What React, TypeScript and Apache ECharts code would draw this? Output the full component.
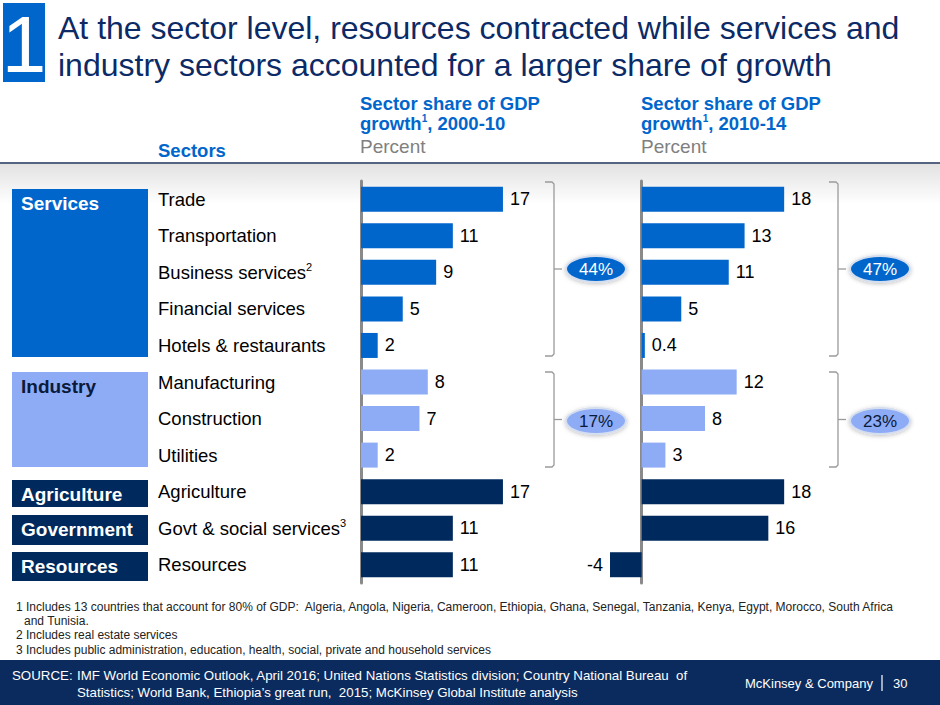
import React, { useEffect, useRef } from "react";
import * as echarts from "echarts";

const sectors = [
  "Trade",
  "Transportation",
  "Business services{sup|2}",
  "Financial services",
  "Hotels & restaurants",
  "Manufacturing",
  "Construction",
  "Utilities",
  "Agriculture",
  "Govt & social services{sup|3}",
  "Resources",
];
const groupOf = ["svc", "svc", "svc", "svc", "svc", "ind", "ind", "ind", "dark", "dark", "dark"];
const share2000_10 = [17, 11, 9, 5, 2, 8, 7, 2, 17, 11, 11];
const share2010_14 = [18, 13, 11, 5, 0.4, 12, 8, 3, 18, 16, -4];
const groupTotals1 = ["44%", "17%"];
const groupTotals2 = ["47%", "23%"];

const C_SVC = "#0066cc";
const C_IND = "#8eabf6";
const C_DARK = "#002a5e";
const NAVY = "#0b2a66";
const colorFor = (g: string) => (g === "svc" ? C_SVC : g === "ind" ? C_IND : C_DARK);

const FONT = "'Liberation Sans', Arial, sans-serif";
const NARROW = "'Liberation Sans Narrow', 'Arial Narrow', 'Liberation Sans', sans-serif";

function barData(vals: number[]) {
  return vals.map((v, i) => ({
    value: v,
    itemStyle: { color: colorFor(groupOf[i]) },
    label: { position: v < 0 ? "left" : "right" },
  }));
}

function bracket(x: number, y1: number, y2: number) {
  const mid = (y1 + y2) / 2;
  return [
    {
      type: "polyline",
      shape: { points: [[x - 9, y1], [x - 2, y1], [x, y1 + 2], [x, y2 - 2], [x - 2, y2], [x - 9, y2]] },
      style: { stroke: "#9a9a9a", lineWidth: 1.3, fill: null },
    },
    { type: "line", shape: { x1: x, y1: mid, x2: x + 8, y2: mid }, style: { stroke: "#9a9a9a", lineWidth: 1.3 } },
  ];
}

function pill(cx: number, cy: number, text: string, fill: string, color: string) {
  return [
    {
      type: "ellipse",
      shape: { cx, cy, rx: 30, ry: 13 },
      style: { fill, stroke: "#d5deef", lineWidth: 2, shadowBlur: 4, shadowColor: "rgba(0,0,0,0.25)", shadowOffsetY: 1 },
    },
    {
      type: "text",
      x: cx,
      y: cy,
      style: { text, fill: color, font: `17px ${FONT}`, align: "center", verticalAlign: "middle" },
    },
  ];
}

function groupBox(y1: number, y2: number, fill: string, text: string, color: string) {
  return [
    { type: "rect", shape: { x: 12, y: y1, width: 136, height: y2 - y1 }, style: { fill } },
    {
      type: "text",
      x: 21,
      y: y1 + 14,
      style: { text, fill: color, font: `bold 19px ${FONT}`, verticalAlign: "middle" },
    },
  ];
}

export default function App() {
  const ref = useRef<HTMLDivElement>(null);
  useEffect(() => {
    if (!ref.current) return;
    const chart = echarts.init(ref.current, null, { renderer: "svg" });
    const labelStyle = { show: true, fontSize: 18, color: "#000", fontFamily: FONT, distance: 7 };
    const headerRich = { sup: { fontSize: 10, fontWeight: "bold", fill: C_SVC, color: C_SVC, verticalAlign: "top", padding: [0, 0, 9, 0] } };
    const graphic: any[] = [
      // title
      { type: "rect", shape: { x: 3, y: 3, width: 42, height: 79 }, style: { fill: C_SVC } },
      { type: "text", x: 24, y: 44, style: { text: "1", fill: "#fff", font: `80px ${NARROW}`, align: "center", verticalAlign: "middle" } },
      { type: "text", x: 58, y: 28, style: { text: "At the sector level, resources contracted while services and", fill: NAVY, font: `32px ${FONT}`, verticalAlign: "middle" } },
      { type: "text", x: 58, y: 65, style: { text: "industry sectors accounted for a larger share of growth", fill: NAVY, font: `32px ${FONT}`, verticalAlign: "middle" } },
      // headers
      { type: "text", x: 158, y: 150, style: { text: "Sectors", fill: C_SVC, font: `bold 18.5px ${FONT}`, verticalAlign: "middle" } },
      { type: "text", x: 360, y: 103, style: { text: "Sector share of GDP", fill: C_SVC, font: `bold 18.5px ${FONT}`, verticalAlign: "middle" } },
      { type: "text", x: 360, y: 123, style: { text: "growth{sup|1}, 2000-10", rich: headerRich, fill: C_SVC, font: `bold 18.5px ${FONT}`, verticalAlign: "middle" } },
      { type: "text", x: 360, y: 146, style: { text: "Percent", fill: "#808080", font: `19px ${FONT}`, verticalAlign: "middle" } },
      { type: "text", x: 641, y: 103, style: { text: "Sector share of GDP", fill: C_SVC, font: `bold 18.5px ${FONT}`, verticalAlign: "middle" } },
      { type: "text", x: 641, y: 123, style: { text: "growth{sup|1}, 2010-14", rich: headerRich, fill: C_SVC, font: `bold 18.5px ${FONT}`, verticalAlign: "middle" } },
      { type: "text", x: 641, y: 146, style: { text: "Percent", fill: "#808080", font: `19px ${FONT}`, verticalAlign: "middle" } },
      // separator + gradient
      {
        type: "rect",
        shape: { x: 0, y: 164, width: 940, height: 40 },
        style: { fill: new echarts.graphic.LinearGradient(0, 0, 0, 1, [{ offset: 0, color: "#e2e2e2" }, { offset: 1, color: "#ffffff" }]) },
        z: -10,
      },
      { type: "line", shape: { x1: 0, y1: 163, x2: 940, y2: 163 }, style: { stroke: "#1b2f55", lineWidth: 1.5 } },
      // group boxes
      ...groupBox(189, 357, C_SVC, "Services", "#ffffff"),
      ...groupBox(372, 467, C_IND, "Industry", "#0a1a3a"),
      ...groupBox(480, 507, C_DARK, "Agriculture", "#ffffff"),
      ...groupBox(515, 545, C_DARK, "Government", "#ffffff"),
      ...groupBox(552, 581, C_DARK, "Resources", "#ffffff"),
      // brackets and pills
      ...bracket(554, 182, 356),
      ...bracket(554, 372, 467),
      ...bracket(838, 182, 356),
      ...bracket(838, 372, 467),
      ...pill(596, 269, groupTotals1[0], C_SVC, "#ffffff"),
      ...pill(596, 421, groupTotals1[1], C_IND, "#0a1a3a"),
      ...pill(880, 269, groupTotals2[0], C_SVC, "#ffffff"),
      ...pill(880, 421, groupTotals2[1], C_IND, "#0a1a3a"),
      // footnotes
      { type: "text", x: 16, y: 607, style: { text: "1 Includes 13 countries that account for 80% of GDP:  Algeria, Angola, Nigeria, Cameroon, Ethiopia, Ghana, Senegal, Tanzania, Kenya, Egypt, Morocco, South Africa", fill: "#222", font: `12px ${NARROW}`, verticalAlign: "middle" } },
      { type: "text", x: 24, y: 621, style: { text: "and Tunisia.", fill: "#222", font: `12px ${NARROW}`, verticalAlign: "middle" } },
      { type: "text", x: 16, y: 635, style: { text: "2 Includes real estate services", fill: "#222", font: `12px ${NARROW}`, verticalAlign: "middle" } },
      { type: "text", x: 16, y: 650, style: { text: "3 Includes public administration, education, health, social, private and household services", fill: "#222", font: `12px ${NARROW}`, verticalAlign: "middle" } },
      // footer
      { type: "rect", shape: { x: 0, y: 660, width: 940, height: 45 }, style: { fill: "#0b2b5e" } },
      { type: "text", x: 12, y: 675, style: { text: "SOURCE:", fill: "#fff", font: `13.3px ${NARROW}`, verticalAlign: "middle" } },
      { type: "text", x: 77, y: 675, style: { text: "IMF World Economic Outlook, April 2016; United Nations Statistics division; Country National Bureau  of", fill: "#fff", font: `13.3px ${NARROW}`, verticalAlign: "middle" } },
      { type: "text", x: 77, y: 692, style: { text: "Statistics; World Bank, Ethiopia\u2019s great run,  2015; McKinsey Global Institute analysis", fill: "#fff", font: `13.3px ${NARROW}`, verticalAlign: "middle" } },
      { type: "text", x: 745, y: 683, style: { text: "McKinsey & Company", fill: "#fff", font: `13px ${NARROW}`, verticalAlign: "middle" } },
      { type: "line", shape: { x1: 882, y1: 675, x2: 882, y2: 691 }, style: { stroke: "#fff", lineWidth: 1.2 } },
      { type: "text", x: 893, y: 683, style: { text: "30", fill: "#fff", font: `13px ${NARROW}`, verticalAlign: "middle" } },
    ];

    chart.setOption({
      animation: false,
      backgroundColor: "#ffffff",
      graphic,
      grid: [
        { left: 361, top: 181, width: 167, height: 402 },
        { left: 610, top: 181, width: 190, height: 402 },
      ],
      xAxis: [
        { type: "value", gridIndex: 0, min: 0, max: 20, show: false },
        { type: "value", gridIndex: 1, min: -4, max: 20, show: false },
      ],
      yAxis: [
        {
          type: "category",
          gridIndex: 0,
          data: sectors,
          inverse: true,
          axisTick: { show: false },
          axisLine: { show: true, lineStyle: { color: "#8a8a8a", width: 3 } },
          axisLabel: {
            align: "left",
            margin: 203,
            fontSize: 18.5,
            color: "#000",
            fontFamily: FONT,
            rich: { sup: { fontSize: 11, color: "#000", fontFamily: FONT, verticalAlign: "top", padding: [0, 0, 10, 0] } },
          },
        },
        {
          type: "category",
          gridIndex: 1,
          data: sectors,
          inverse: true,
          axisTick: { show: false },
          axisLabel: { show: false },
          axisLine: { show: true, onZero: true, lineStyle: { color: "#8a8a8a", width: 3 } },
        },
      ],
      series: [
        {
          type: "bar",
          xAxisIndex: 0,
          yAxisIndex: 0,
          barWidth: 25,
          data: barData(share2000_10),
          label: labelStyle,
        },
        {
          type: "bar",
          xAxisIndex: 1,
          yAxisIndex: 1,
          barWidth: 25,
          data: barData(share2010_14),
          label: labelStyle,
        },
      ],
    });
    return () => chart.dispose();
  }, []);
  return <div ref={ref} style={{ position: "absolute", left: 0, top: 0, width: 940, height: 705 }} />;
}
